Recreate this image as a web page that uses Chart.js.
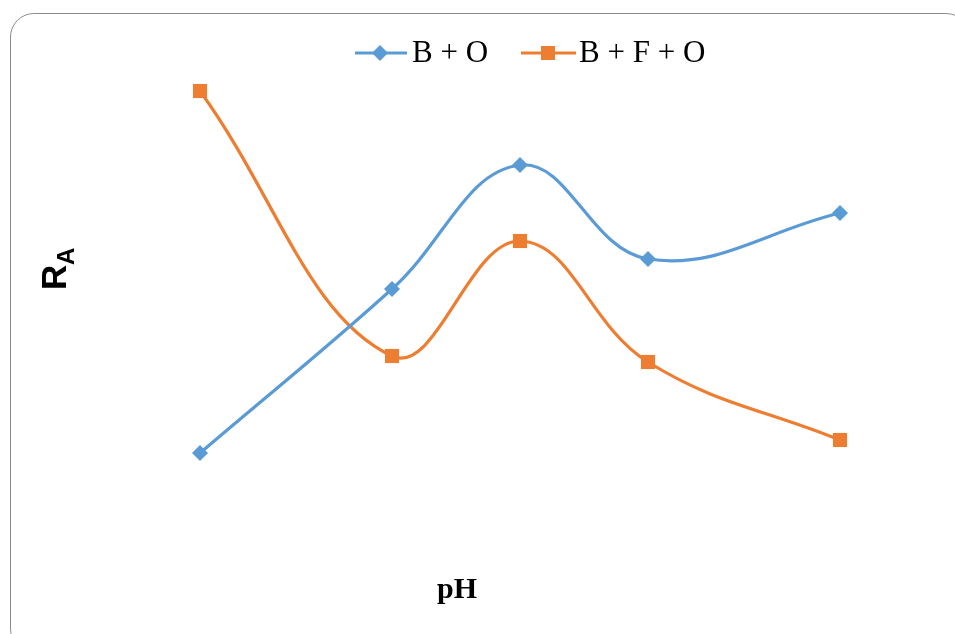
<!DOCTYPE html>
<html>
<head>
<meta charset="utf-8">
<script src="https://cdn.jsdelivr.net/npm/chart.js@4"></script>
<style>
  html, body { margin: 0; padding: 0; background: #fff; overflow: hidden; }
  #frame { position: absolute; left: 10px; top: 13px; width: 960px; height: 640px;
           border: 1px solid #8c8c8c; border-radius: 24px; box-sizing: border-box; }
  #myChart { position: absolute; left: 0; top: 0; }
</style>
</head>
<body>
<div id="frame"></div>
<canvas id="myChart" width="955" height="634"></canvas>
<script>
// pH values (no tick labels shown in the original, spacing read from the marks)
const phValues = [2, 5, 7, 9, 12];
// R_A, arbitrary units (no y ticks in the original)
const bO = [19.25, 60.25, 91.25, 67.75, 79.25];
const bfO = [109.75, 43.5, 72.25, 42, 22.5];

const blue = '#5B9BD5';
const orange = '#ED7D31';

// legend + axis titles drawn by hand so the legend shows line + marker like Excel
const extras = {
  id: 'extras',
  afterDraw(chart) {
    const c = chart.ctx;
    c.save();
    // legend
    c.lineWidth = 3;
    c.strokeStyle = blue;
    c.beginPath(); c.moveTo(355, 53); c.lineTo(407, 53); c.stroke();
    c.fillStyle = blue;
    c.beginPath(); c.moveTo(380, 45); c.lineTo(388, 53); c.lineTo(380, 61); c.lineTo(372, 53); c.closePath(); c.fill();
    c.strokeStyle = orange;
    c.beginPath(); c.moveTo(521, 53); c.lineTo(576, 53); c.stroke();
    c.fillStyle = orange;
    c.fillRect(541, 46, 14, 14);
    c.fillStyle = '#000';
    c.font = '31px "Liberation Serif"';
    c.textBaseline = 'middle';
    c.textAlign = 'left';
    c.fillText('B + O', 412, 54);
    c.fillText('B + F + O', 579, 54);
    // x title
    c.font = 'bold 30px "Liberation Serif"';
    c.textAlign = 'center';
    c.fillText('pH', 457, 590);
    // y title, rotated, with subscript
    c.translate(56, 272);
    c.rotate(-Math.PI / 2);
    c.textAlign = 'left';
    c.font = 'bold 35px "Liberation Sans"';
    c.fillText('R', -18, 0);
    c.font = 'bold 24px "Liberation Sans"';
    c.fillText('A', 7, 11);
    c.restore();
  }
};

new Chart(document.getElementById('myChart'), {
  type: 'line',
  data: {
    datasets: [{
      label: 'B + O',
      data: phValues.map((x, i) => ({ x: x, y: bO[i] })),
      borderColor: blue,
      backgroundColor: blue,
      borderWidth: 3.2,
      pointStyle: 'rectRot',
      pointRadius: 8,
      pointBorderWidth: 0,
      tension: 0.4
    }, {
      label: 'B + F + O',
      data: phValues.map((x, i) => ({ x: x, y: bfO[i] })),
      borderColor: orange,
      backgroundColor: orange,
      borderWidth: 3.2,
      pointStyle: 'rect',
      pointRadius: 10,
      pointBorderWidth: 0,
      tension: 0.4
    }]
  },
  options: {
    responsive: false,
    animation: false,
    layout: { padding: 0, autoPadding: false },
    plugins: {
      legend: { display: false },
      tooltip: { enabled: false }
    },
    scales: {
      x: { type: 'linear', display: false, min: -1.125, max: 13.797 },
      y: { display: false, min: -26, max: 132.5 }
    }
  },
  plugins: [extras]
});
</script>
</body>
</html>
